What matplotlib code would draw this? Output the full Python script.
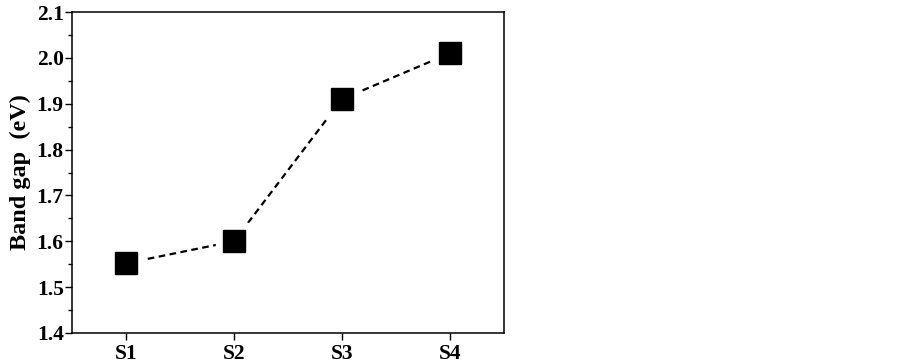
import matplotlib.pyplot as plt
from matplotlib.ticker import MultipleLocator

samples = ["S1", "S2", "S3", "S4"]
band_gap = [1.552, 1.600, 1.910, 2.010]

plt.rcParams["font.family"] = ["Liberation Serif", "DejaVu Serif"]
plt.rcParams["font.weight"] = "bold"

fig = plt.figure(figsize=(9.03, 3.63), dpi=100)
ax = fig.add_axes([72 / 903, 30 / 363, 432 / 903, 321 / 363])

x = list(range(len(samples)))

# dashed connecting line, white halo leaves a gap around each marker
ax.plot(x, band_gap, color="black", linestyle=(0, (3, 2)), linewidth=1.6, zorder=2)
ax.plot(x, band_gap, linestyle="none", marker="s", markersize=26,
        markerfacecolor="white", markeredgecolor="white", zorder=3)
ax.plot(x, band_gap, linestyle="none", marker="s", markersize=16,
        markerfacecolor="black", markeredgecolor="black", zorder=4)

ax.set_xlim(-0.5, 3.5)
ax.set_ylim(1.4, 2.1)
ax.set_xticks(x)
ax.set_xticklabels(samples)
ax.yaxis.set_major_locator(MultipleLocator(0.1))
ax.yaxis.set_minor_locator(MultipleLocator(0.05))
ax.set_yticklabels([f"{v:.1f}" for v in ax.get_yticks()])

ax.tick_params(axis="both", which="major", direction="out", length=5, width=1,
               labelsize=15.5)
ax.tick_params(axis="y", which="minor", direction="out", length=3, width=1)
ax.tick_params(axis="x", pad=3)
ax.tick_params(axis="y", pad=1)
for s in ax.spines.values():
    s.set_linewidth(1.1)

ax.set_ylabel("Band gap  (eV)", fontsize=17.5, fontweight="bold", labelpad=4)

fig.savefig("out.png", dpi=100)
